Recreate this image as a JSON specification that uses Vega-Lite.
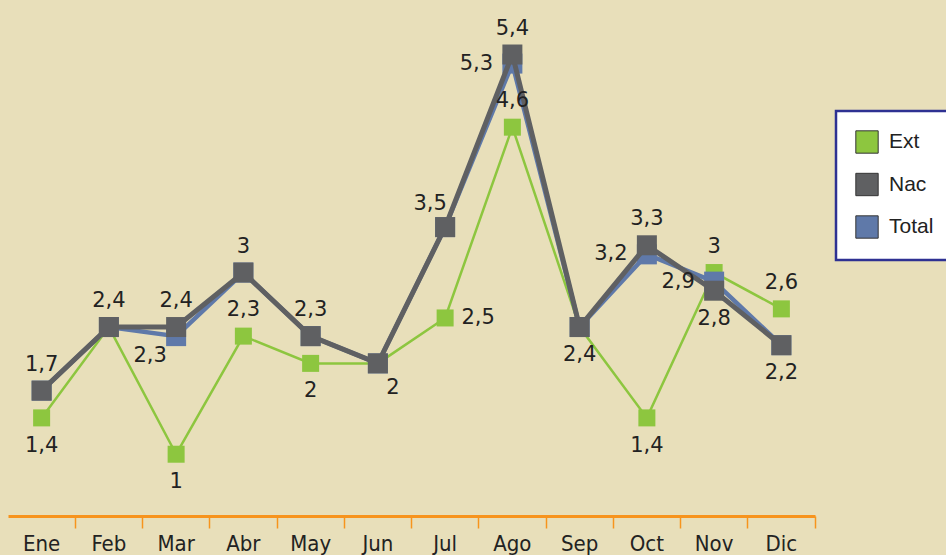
{
  "$schema": "https://vega.github.io/schema/vega-lite/v6.json",
  "width": 807,
  "height": 516,
  "autosize": "none",
  "padding": {"left": 8, "top": 0, "right": 131, "bottom": 39},
  "background": "#E8DFBA",
  "data": {
    "values": [
      {"month": "Ene", "series": "Ext", "value": 1.4, "pos": "below"},
      {"month": "Feb", "series": "Ext", "value": 2.4, "pos": "none"},
      {"month": "Mar", "series": "Ext", "value": 1.0, "pos": "below"},
      {"month": "Abr", "series": "Ext", "value": 2.3, "pos": "above"},
      {"month": "May", "series": "Ext", "value": 2.0, "pos": "below"},
      {"month": "Jun", "series": "Ext", "value": 2.0, "pos": "belowright"},
      {"month": "Jul", "series": "Ext", "value": 2.5, "pos": "right"},
      {"month": "Ago", "series": "Ext", "value": 4.6, "pos": "above"},
      {"month": "Sep", "series": "Ext", "value": 2.4, "pos": "below"},
      {"month": "Oct", "series": "Ext", "value": 1.4, "pos": "below"},
      {"month": "Nov", "series": "Ext", "value": 3.0, "pos": "above"},
      {"month": "Dic", "series": "Ext", "value": 2.6, "pos": "above"},
      {"month": "Ene", "series": "Nac", "value": 1.7, "pos": "above"},
      {"month": "Feb", "series": "Nac", "value": 2.4, "pos": "above"},
      {"month": "Mar", "series": "Nac", "value": 2.4, "pos": "above"},
      {"month": "Abr", "series": "Nac", "value": 3.0, "pos": "above"},
      {"month": "May", "series": "Nac", "value": 2.3, "pos": "above"},
      {"month": "Jun", "series": "Nac", "value": 2.0, "pos": "none"},
      {"month": "Jul", "series": "Nac", "value": 3.5, "pos": "aboveleft"},
      {"month": "Ago", "series": "Nac", "value": 5.4, "pos": "above"},
      {"month": "Sep", "series": "Nac", "value": 2.4, "pos": "none"},
      {"month": "Oct", "series": "Nac", "value": 3.3, "pos": "above"},
      {"month": "Nov", "series": "Nac", "value": 2.8, "pos": "below"},
      {"month": "Dic", "series": "Nac", "value": 2.2, "pos": "below"},
      {"month": "Ene", "series": "Total", "value": 1.7, "pos": "none"},
      {"month": "Feb", "series": "Total", "value": 2.4, "pos": "none"},
      {"month": "Mar", "series": "Total", "value": 2.3, "pos": "belowleft"},
      {"month": "Abr", "series": "Total", "value": 3.0, "pos": "none"},
      {"month": "May", "series": "Total", "value": 2.3, "pos": "none"},
      {"month": "Jun", "series": "Total", "value": 2.0, "pos": "none"},
      {"month": "Jul", "series": "Total", "value": 3.5, "pos": "none"},
      {"month": "Ago", "series": "Total", "value": 5.3, "pos": "left"},
      {"month": "Sep", "series": "Total", "value": 2.4, "pos": "none"},
      {"month": "Oct", "series": "Total", "value": 3.2, "pos": "left"},
      {"month": "Nov", "series": "Total", "value": 2.9, "pos": "left"},
      {"month": "Dic", "series": "Total", "value": 2.2, "pos": "none"}
    ]
  },
  "encoding": {
    "x": {
      "field": "month",
      "type": "nominal",
      "sort": ["Ene", "Feb", "Mar", "Abr", "May", "Jun", "Jul", "Ago", "Sep", "Oct", "Nov", "Dic"],
      "scale": {"type": "band", "paddingInner": 0, "paddingOuter": 0},
      "title": null,
      "axis": {
        "domainColor": "#F7941D",
        "domainWidth": 3,
        "tickColor": "#F7941D",
        "tickWidth": 1.5,
        "tickSize": 12,
        "bandPosition": 1,
        "labelFont": "Liberation Sans Narrow, DejaVu Sans Condensed, Liberation Sans",
        "labelFontSize": 22,
        "labelColor": "#222222",
        "labelPadding": 22,
        "labelBaseline": "alphabetic",
        "labelAngle": 0,
        "grid": false
      }
    },
    "y": {
      "field": "value",
      "type": "quantitative",
      "scale": {"domain": [0.32, 6], "zero": false, "nice": false},
      "axis": null
    }
  },
  "layer": [
    {
      "transform": [{"filter": "datum.series == 'Ext'"}],
      "mark": {"type": "line", "strokeWidth": 2.5, "color": "#8DC63F"}
    },
    {
      "transform": [{"filter": "datum.series == 'Ext'"}],
      "mark": {"type": "square", "size": 289, "filled": true, "opacity": 1},
      "encoding": {"color": {"field": "series", "type": "nominal", "scale": {"domain": ["Ext", "Nac", "Total"], "range": ["#8DC63F", "#5F6062", "#5F79A9"]}, "legend": {"title": null, "orient": "none", "legendX": 828, "legendY": 111}}}
    },
    {
      "transform": [{"filter": "datum.series == 'Total'"}],
      "mark": {"type": "line", "strokeWidth": 4.5, "color": "#5F79A9"}
    },
    {
      "transform": [{"filter": "datum.series == 'Total'"}],
      "mark": {"type": "square", "size": 400, "filled": true, "opacity": 1},
      "encoding": {"color": {"field": "series", "type": "nominal"}}
    },
    {
      "transform": [{"filter": "datum.series == 'Nac'"}],
      "mark": {"type": "line", "strokeWidth": 5, "color": "#5F6062"}
    },
    {
      "transform": [{"filter": "datum.series == 'Nac'"}],
      "mark": {"type": "square", "size": 400, "filled": true, "opacity": 1},
      "encoding": {"color": {"field": "series", "type": "nominal"}}
    },
    {
      "transform": [{"filter": "datum.pos == 'above'"}],
      "mark": {"type": "text", "dy": -26, "font": "DejaVu Sans", "fontSize": 21, "fill": "#222222", "baseline": "middle", "align": "center"},
      "encoding": {"text": {"field": "value", "type": "quantitative", "format": ".1~f"}}
    },
    {
      "transform": [{"filter": "datum.pos == 'below'"}],
      "mark": {"type": "text", "dy": 28, "font": "DejaVu Sans", "fontSize": 21, "fill": "#222222", "baseline": "middle", "align": "center"},
      "encoding": {"text": {"field": "value", "type": "quantitative", "format": ".1~f"}}
    },
    {
      "transform": [{"filter": "datum.pos == 'left'"}],
      "mark": {"type": "text", "dx": -36, "font": "DejaVu Sans", "fontSize": 21, "fill": "#222222", "baseline": "middle", "align": "center"},
      "encoding": {"text": {"field": "value", "type": "quantitative", "format": ".1~f"}}
    },
    {
      "transform": [{"filter": "datum.pos == 'right'"}],
      "mark": {"type": "text", "dx": 33, "font": "DejaVu Sans", "fontSize": 21, "fill": "#222222", "baseline": "middle", "align": "center"},
      "encoding": {"text": {"field": "value", "type": "quantitative", "format": ".1~f"}}
    },
    {
      "transform": [{"filter": "datum.pos == 'belowleft'"}],
      "mark": {"type": "text", "dx": -26, "dy": 20, "font": "DejaVu Sans", "fontSize": 21, "fill": "#222222", "baseline": "middle", "align": "center"},
      "encoding": {"text": {"field": "value", "type": "quantitative", "format": ".1~f"}}
    },
    {
      "transform": [{"filter": "datum.pos == 'belowright'"}],
      "mark": {"type": "text", "dx": 15, "dy": 25, "font": "DejaVu Sans", "fontSize": 21, "fill": "#222222", "baseline": "middle", "align": "center"},
      "encoding": {"text": {"field": "value", "type": "quantitative", "format": ".1~f"}}
    },
    {
      "transform": [{"filter": "datum.pos == 'aboveleft'"}],
      "mark": {"type": "text", "dx": -15, "dy": -23, "font": "DejaVu Sans", "fontSize": 21, "fill": "#222222", "baseline": "middle", "align": "center"},
      "encoding": {"text": {"field": "value", "type": "quantitative", "format": ".1~f"}}
    }
  ],
  "config": {
    "locale": {"number": {"decimal": ",", "thousands": ".", "grouping": [3], "currency": ["", " €"]}},
    "view": {"stroke": null},
    "legend": {
      "padding": 19,
      "strokeColor": "#2E3192",
      "fillColor": "#FFFFFF",
      "strokeWidth": 2.5,
      "labelFont": "Liberation Sans",
      "labelFontSize": 21,
      "labelColor": "#222222",
      "symbolSize": 500,
      "symbolType": "square",
      "symbolStrokeColor": "#333333",
      "symbolStrokeWidth": 1,
      "symbolOpacity": 1,
      "rowPadding": 14.5,
      "labelOffset": 10
    }
  }
}
